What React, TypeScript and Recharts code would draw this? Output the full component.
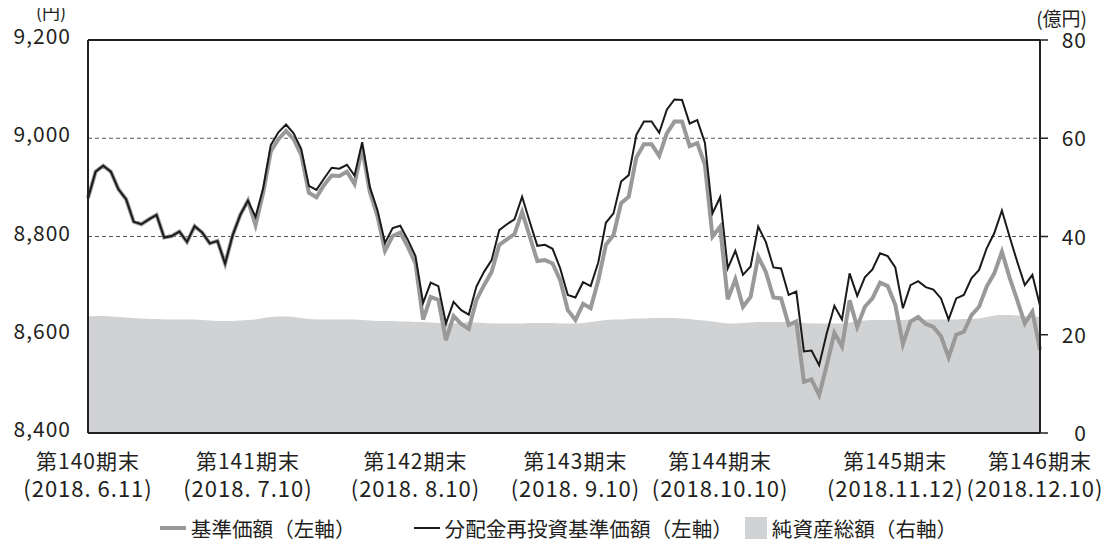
import React from "react";
import {
  ComposedChart,
  Area,
  Line,
  XAxis,
  YAxis,
  CartesianGrid,
  ReferenceLine,
} from "recharts";

// 営業日（2018.6.11〜2018.12.10）
const dates = [
  "6/11", "6/12", "6/13", "6/14", "6/15", "6/18", "6/19", "6/20", "6/21", "6/22",
  "6/25", "6/26", "6/27", "6/28", "6/29",
  "7/2", "7/3", "7/4", "7/5", "7/6", "7/9", "7/10", "7/11", "7/12", "7/13",
  "7/17", "7/18", "7/19", "7/20", "7/23", "7/24", "7/25", "7/26", "7/27", "7/30", "7/31",
  "8/1", "8/2", "8/3", "8/6", "8/7", "8/8", "8/9", "8/10", "8/13", "8/14",
  "8/15", "8/16", "8/17", "8/20", "8/21", "8/22", "8/23", "8/24", "8/27", "8/28",
  "8/29", "8/30", "8/31",
  "9/3", "9/4", "9/5", "9/6", "9/7", "9/10", "9/11", "9/12", "9/13", "9/14",
  "9/18", "9/19", "9/20", "9/21", "9/25", "9/26", "9/27", "9/28",
  "10/1", "10/2", "10/3", "10/4", "10/5", "10/9", "10/10", "10/11", "10/12", "10/15",
  "10/16", "10/17", "10/18", "10/19", "10/22", "10/23", "10/24", "10/25", "10/26", "10/29",
  "10/30", "10/31",
  "11/1", "11/2", "11/5", "11/6", "11/7", "11/8", "11/9", "11/12", "11/13", "11/14",
  "11/15", "11/16", "11/19", "11/20", "11/21", "11/22", "11/26", "11/27", "11/28", "11/29",
  "11/30",
  "12/3", "12/4", "12/5", "12/6", "12/7", "12/10",
];

// 基準価額（左軸）
const navValues = [
  8878, 8932, 8944, 8932, 8896, 8876, 8830, 8825, 8835, 8844,
  8798, 8801, 8810, 8789, 8821, 8808, 8786, 8791, 8745, 8803,
  8844, 8873, 8823, 8889, 8973, 8998, 9015, 8998, 8966, 8889,
  8880, 8905, 8924, 8923, 8932, 8907, 8980, 8891, 8842, 8771,
  8801, 8808, 8779, 8745, 8631, 8677, 8671, 8589, 8638, 8622,
  8612, 8671, 8701, 8728, 8783, 8794, 8805, 8850, 8800, 8750,
  8752, 8745, 8711, 8650, 8630, 8663, 8654, 8711, 8783, 8803,
  8868, 8881, 8961, 8988, 8988, 8964, 9010, 9034, 9034, 8984,
  8990, 8946, 8800, 8820, 8672, 8713, 8657, 8677, 8759, 8728,
  8676, 8674, 8620, 8627, 8504, 8509, 8477, 8538, 8604, 8576,
  8670, 8616, 8657, 8674, 8706, 8699, 8661, 8581, 8627, 8636,
  8622, 8616, 8597, 8554, 8600, 8606, 8640, 8657, 8698, 8725,
  8769, 8717, 8671, 8623, 8647, 8569,
];

// 分配金再投資基準価額（左軸）
const reinvestValues = [
  8878, 8932, 8944, 8932, 8896, 8876, 8830, 8825, 8835, 8844,
  8798, 8801, 8810, 8789, 8821, 8808, 8786, 8791, 8745, 8803,
  8844, 8873, 8840, 8898, 8986, 9012, 9028, 9010, 8978, 8903,
  8895, 8918, 8940, 8938, 8946, 8924, 8992, 8901, 8854, 8787,
  8817, 8822, 8793, 8760, 8665, 8706, 8699, 8623, 8667, 8650,
  8641, 8698, 8728, 8752, 8813, 8825, 8835, 8881, 8830, 8781,
  8783, 8775, 8735, 8681, 8676, 8707, 8699, 8747, 8828, 8847,
  8912, 8925, 9007, 9034, 9034, 9011, 9058, 9079, 9078, 9030,
  9037, 8991, 8847, 8880, 8735, 8771, 8722, 8739, 8820, 8789,
  8737, 8735, 8681, 8688, 8566, 8568, 8538, 8603, 8659, 8631,
  8725, 8679, 8717, 8733, 8766, 8760, 8737, 8654, 8701, 8709,
  8697, 8692, 8674, 8631, 8674, 8681, 8715, 8732, 8776, 8807,
  8853, 8800, 8749, 8701, 8722, 8659,
];

// 純資産総額（右軸、億円）
const assetValues = [
  23.7, 23.8, 23.8, 23.7, 23.6, 23.5, 23.4, 23.3, 23.2, 23.2,
  23.1, 23.1, 23.1, 23.1, 23.1, 23.0, 22.9, 22.8, 22.8, 22.8,
  22.9, 23.0, 23.1, 23.4, 23.6, 23.7, 23.7, 23.6, 23.4, 23.2,
  23.1, 23.1, 23.1, 23.1, 23.1, 23.1, 23.0, 22.9, 22.8, 22.8,
  22.8, 22.7, 22.7, 22.6, 22.6, 22.5, 22.4, 22.3, 22.3, 22.4,
  22.6, 22.5, 22.4, 22.3, 22.3, 22.3, 22.3, 22.3, 22.4, 22.4,
  22.4, 22.4, 22.3, 22.3, 22.3, 22.4, 22.6, 22.8, 23.0, 23.1,
  23.1, 23.2, 23.3, 23.3, 23.4, 23.4, 23.4, 23.4, 23.3, 23.2,
  23.0, 22.9, 22.7, 22.5, 22.3, 22.3, 22.4, 22.5, 22.6, 22.6,
  22.6, 22.6, 22.6, 22.5, 22.4, 22.3, 22.3, 22.3, 22.3, 22.3,
  22.5, 22.7, 22.9, 23.0, 23.0, 23.0, 23.0, 23.0, 23.1, 23.1,
  23.1, 23.1, 23.1, 23.1, 23.1, 23.2, 23.2, 23.3, 23.6, 23.9,
  24.0, 24.0, 23.9, 23.8, 23.7, 23.6,
];

const periodDates = ["6/11", "7/10", "8/10", "9/10", "10/10", "11/12", "12/10"];
const periodNames = ["第140期末", "第141期末", "第142期末", "第143期末", "第144期末", "第145期末", "第146期末"];
const periodLabels = [
  "(2018. 6.11)",
  "(2018. 7.10)",
  "(2018. 8.10)",
  "(2018. 9.10)",
  "(2018.10.10)",
  "(2018.11.12)",
  "(2018.12.10)",
];
const leftTicks = [8400, 8600, 8800, 9000, 9200];
const rightTicks = [0, 20, 40, 60, 80];

const FONT = '"Noto Sans CJK JP", "Noto Sans", sans-serif';
const INK = "#231f20";

const data = dates.map((date, i) => ({
  date,
  nav: navValues[i],
  reinvest: reinvestValues[i],
  assets: assetValues[i],
}));

const XTick = ({ x, y, payload }: any) => {
  const k = periodDates.indexOf(payload.value);
  if (k < 0) return null;
  // keep the last date inside the window
  const shift = k === periodDates.length - 1 ? -5 : 0;
  return (
    <text textAnchor="middle" fontFamily={FONT} fill={INK} letterSpacing={1}>
      <tspan x={x} y={y + 36} fontSize={21}>
        {periodNames[k]}
      </tspan>
      <tspan x={x + shift} y={y + 64} fontSize={22}>
        {periodLabels[k]}
      </tspan>
    </text>
  );
};

const LeftTick = ({ x, y, payload }: any) => (
  <text
    x={x}
    y={y - 5}
    textAnchor="end"
    dominantBaseline="central"
    fontFamily={FONT}
    fontSize={21}
    letterSpacing={1}
    fill={INK}
  >
    {payload.value.toLocaleString("en-US")}
  </text>
);

const RightTick = ({ x, y, payload }: any) => (
  <text
    x={x + 39}
    y={y - 1}
    textAnchor="end"
    dominantBaseline="central"
    fontFamily={FONT}
    fontSize={21}
    letterSpacing={1}
    fill={INK}
  >
    {payload.value}
  </text>
);

const legendText: React.CSSProperties = { fontSize: 20.6, color: INK, whiteSpace: "nowrap" };

export default function App() {
  return (
    <div style={{ position: "relative", width: 1101, height: 535, fontFamily: FONT }}>
      <ComposedChart
        width={1101}
        height={535}
        data={data}
        margin={{ top: 32, right: 0, bottom: 30, left: 0 }}
      >
        <CartesianGrid
          yAxisId="left"
          vertical={false}
          stroke="#555"
          strokeDasharray="4 3"
        />
        <XAxis
          dataKey="date"
          type="category"
          scale="point"
          ticks={periodDates}
          interval={0}
          tick={<XTick />}
          tickLine={false}
          tickSize={0}
          tickMargin={0}
          height={80}
          axisLine={{ stroke: INK, strokeWidth: 2 }}
        />
        <YAxis
          yAxisId="left"
          orientation="left"
          domain={[8400, 9200]}
          ticks={leftTicks}
          width={80}
          tickLine={false}
          tickSize={0}
          tickMargin={17}
          tick={<LeftTick />}
          axisLine={{ stroke: INK, strokeWidth: 2 }}
        />
        <YAxis
          yAxisId="right"
          orientation="right"
          domain={[0, 80]}
          ticks={rightTicks}
          width={69}
          tickSize={8}
          tickMargin={0}
          tickLine={{ stroke: INK, strokeWidth: 1.5 }}
          tick={<RightTick />}
          axisLine={{ stroke: INK, strokeWidth: 2 }}
        />
        <ReferenceLine yAxisId="left" y={9200} stroke={INK} strokeWidth={2} />
        <Area
          yAxisId="right"
          type="monotone"
          dataKey="assets"
          fill="#d1d2d4"
          fillOpacity={1}
          stroke="none"
          isAnimationActive={false}
        />
        <Line
          yAxisId="left"
          type="linear"
          dataKey="nav"
          stroke="#999999"
          strokeWidth={4}
          dot={false}
          isAnimationActive={false}
        />
        <Line
          yAxisId="left"
          type="linear"
          dataKey="reinvest"
          stroke="#1a1a1a"
          strokeWidth={2}
          dot={false}
          isAnimationActive={false}
        />
      </ComposedChart>
      {/* unit captions, page coordinates */}
      <svg
        width={1109}
        height={40}
        style={{ position: "absolute", left: -8, top: -8, overflow: "visible", pointerEvents: "none" }}
      >
        <text x={51} y={11} textAnchor="middle" dominantBaseline="central" fontFamily={FONT} fontSize={18} fill={INK}>
          (円)
        </text>
        <text x={1087} y={17} textAnchor="end" dominantBaseline="central" fontFamily={FONT} fontSize={19} fill={INK}>
          (億円)
        </text>
      </svg>
      <div
        style={{
          position: "absolute",
          left: 0,
          top: 505,
          width: 1101,
          display: "flex",
          justifyContent: "center",
          alignItems: "center",
        }}
      >
        <span style={{ width: 26, height: 4, background: "#999999", marginRight: 5 }} />
        <span style={legendText}>基準価額（左軸）</span>
        <span style={{ width: 26, height: 2.5, background: "#1a1a1a", marginLeft: 58, marginRight: 5 }} />
        <span style={legendText}>分配金再投資基準価額（左軸）</span>
        <span style={{ width: 22, height: 22, background: "#d1d2d4", marginLeft: 12, marginRight: 5 }} />
        <span style={legendText}>純資産総額（右軸）</span>
      </div>
    </div>
  );
}
